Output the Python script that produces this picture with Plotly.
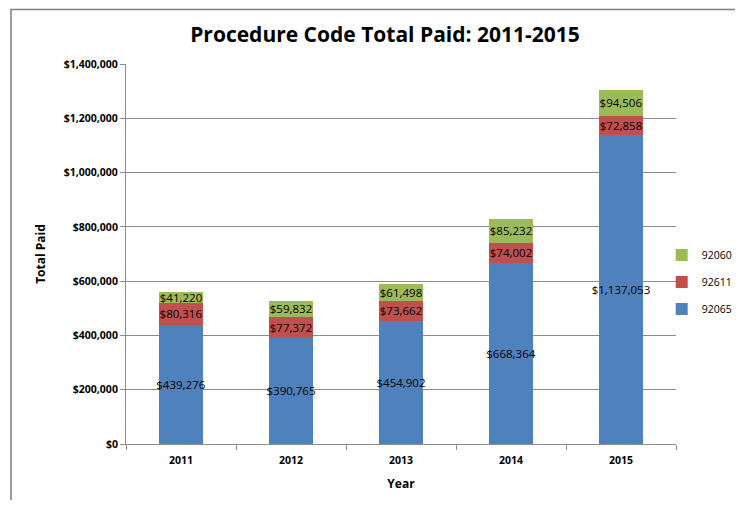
import plotly.graph_objects as go

years = ["2011", "2012", "2013", "2014", "2015"]
code_92065 = [439276, 390765, 454902, 668364, 1137053]
code_92611 = [80316, 77372, 73662, 74002, 72858]
code_92060 = [41220, 59832, 61498, 85232, 94506]

series = [
    ("92065", code_92065, "#4F81BD", 3),
    ("92611", code_92611, "#C0504D", 2),
    ("92060", code_92060, "#9BBB59", 1),
]

FONT = "Open Sans"
fig = go.Figure()
for name, vals, color, rank in series:
    fig.add_trace(go.Bar(
        x=years, y=vals, name=name, legendgroup=name, legendrank=rank,
        marker=dict(color=color, line=dict(width=0)),
        text=[f"${v:,}" for v in vals],
        textposition="inside", insidetextanchor="middle", textangle=0,
        textfont=dict(family=FONT, size=11.5, color="black"),
        cliponaxis=False,
    ))

# page body has an 8px margin on every side, so the figure is 16px smaller
W, H = 727, 492
fig.update_layout(
    barmode="stack",
    bargap=0.6,
    width=W, height=H,
    margin=dict(l=118, r=59, t=56, b=56, autoexpand=False),
    paper_bgcolor="white", plot_bgcolor="white",
    uniformtext=dict(minsize=11.5, mode="show"),
    title=dict(text="<b>Procedure Code Total Paid: 2011-2015</b>",
               x=(385 - 8) / W, xanchor="center", y=1 - (35 - 8) / H, yanchor="middle",
               font=dict(family=FONT, size=21, color="black")),
    legend=dict(x=0.974, xanchor="left", y=0.426, yanchor="middle",
                bgcolor="rgba(0,0,0,0)",
                font=dict(family=FONT, size=10.5, color="black"),
                itemwidth=30, tracegroupgap=8, traceorder="grouped"),
    font=dict(family=FONT, color="black"),
)

fig.update_yaxes(
    range=[0, 1400000], dtick=200000, tickformat="$,.0f",
    showgrid=True, gridcolor="#8c8c8c", gridwidth=1,
    showline=True, linecolor="#8c8c8c", linewidth=1,
    ticks="outside", ticklen=5, tickcolor="#8c8c8c",
    tickfont=dict(family=FONT, size=10.5, color="black", weight="bold"),
    title=dict(text="<b>Total Paid</b>", font=dict(family=FONT, size=12, color="black"), standoff=15),
    zeroline=False,
)
fig.update_xaxes(
    showline=True, linecolor="#8c8c8c", linewidth=1,
    ticks="outside", ticklen=5, tickcolor="#8c8c8c", tickson="boundaries",
    ticklabelstandoff=6,
    tickfont=dict(family=FONT, size=10.5, color="black", weight="bold"),
    title=dict(text="<b>Year</b>", font=dict(family=FONT, size=12, color="black"), standoff=14),
)

# outer frame (top edge kept just inside the figure)
fig.add_shape(type="rect", xref="paper", yref="paper",
              x0=(11 - 126) / 550, x1=1.3, y0=-0.3, y1=(444 - 9.5) / 380,
              line=dict(color="#7f7f7f", width=1.5), layer="below")

fig.write_html("out.html")
